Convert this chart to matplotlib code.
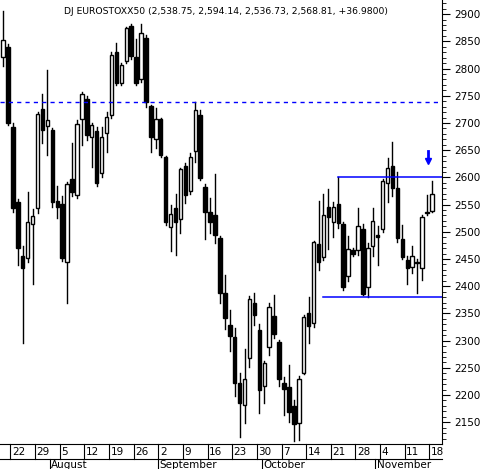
import numpy as np
import pandas as pd
import matplotlib
matplotlib.use('Agg')
import matplotlib.pyplot as plt
from matplotlib.patches import Rectangle

# OHLC, 2002-07-18 .. 2002-11-18
opens = [2822, 2840, 2692, 2554, 2455, 2452, 2514, 2543, 2725, 2694,
         2687, 2556, 2551, 2444, 2597, 2567, 2707, 2744, 2674, 2685,
         2608, 2681, 2714, 2830, 2773, 2814, 2878, 2821, 2780, 2856,
         2731, 2670, 2707, 2637, 2508, 2543, 2523, 2620, 2575, 2648,
         2714, 2582, 2536, 2531, 2488, 2387, 2328, 2306, 2222, 2181,
         2268, 2369, 2319, 2216, 2288, 2345, 2297, 2222, 2214, 2179,
         2148, 2240, 2350, 2332, 2477, 2453, 2545, 2518, 2551, 2514,
         2418, 2466, 2466, 2505, 2398, 2474, 2495, 2505, 2589, 2621,
         2580, 2486, 2448, 2435, 2445, 2433, 2534, 2539]
highs = [2905, 2845, 2700, 2560, 2474, 2573, 2541, 2720, 2753, 2797,
         2690, 2584, 2565, 2592, 2663, 2705, 2757, 2750, 2700, 2692,
         2692, 2720, 2830, 2847, 2810, 2877, 2882, 2855, 2882, 2862,
         2733, 2727, 2710, 2640, 2549, 2569, 2618, 2626, 2644, 2738,
         2724, 2588, 2562, 2607, 2492, 2420, 2356, 2323, 2241, 2285,
         2382, 2387, 2330, 2262, 2369, 2383, 2302, 2233, 2255, 2191,
         2235, 2347, 2380, 2483, 2557, 2569, 2578, 2555, 2600, 2518,
         2492, 2470, 2543, 2514, 2480, 2543, 2510, 2597, 2635, 2665,
         2610, 2512, 2455, 2473, 2450, 2531, 2567, 2594]
lows = [2805, 2696, 2537, 2439, 2295, 2445, 2404, 2535, 2663, 2641,
        2545, 2525, 2446, 2370, 2565, 2562, 2659, 2668, 2619, 2585,
        2600, 2646, 2710, 2770, 2770, 2810, 2818, 2769, 2775, 2729,
        2646, 2654, 2638, 2512, 2464, 2457, 2497, 2553, 2570, 2628,
        2595, 2487, 2497, 2480, 2370, 2321, 2281, 2198, 2122, 2148,
        2251, 2328, 2167, 2185, 2274, 2305, 2216, 2163, 2150, 2115,
        2117, 2238, 2295, 2325, 2430, 2448, 2469, 2490, 2507, 2393,
        2409, 2455, 2458, 2383, 2380, 2455, 2439, 2500, 2554, 2565,
        2481, 2450, 2404, 2424, 2387, 2411, 2530, 2537]
closes = [2852, 2700, 2543, 2470, 2433, 2518, 2529, 2716, 2687, 2705,
          2554, 2545, 2452, 2588, 2573, 2699, 2753, 2678, 2696, 2589,
          2674, 2711, 2825, 2773, 2806, 2874, 2823, 2773, 2865, 2738,
          2674, 2707, 2641, 2518, 2532, 2518, 2615, 2567, 2637, 2723,
          2599, 2536, 2518, 2494, 2387, 2341, 2308, 2222, 2185, 2229,
          2376, 2347, 2209, 2258, 2362, 2312, 2229, 2211, 2168, 2146,
          2229, 2343, 2326, 2481, 2444, 2531, 2527, 2545, 2516, 2398,
          2469, 2460, 2510, 2385, 2471, 2520, 2491, 2593, 2617, 2580,
          2488, 2453, 2433, 2455, 2442, 2527, 2537, 2569]
dates = pd.bdate_range('2002-07-18', periods=len(closes))

prev_level = 2738
resist_level, resist_from = 2600, 68
support_level, support_from = 2381, 65
title = "DJ EUROSTOXX50 (2,538.75, 2,594.14, 2,536.73, 2,568.81, +36.9800)"

fig = plt.figure(figsize=(4.83, 4.69), dpi=100)
ax = fig.add_axes([0, 25 / 469, 442 / 483, 444 / 469])
n = len(closes)
x = np.arange(n)
for i in x:
    o, h, l, c = opens[i], highs[i], lows[i], closes[i]
    ax.plot([i, i], [l, h], color='black', lw=1, zorder=1)
    up = c >= o
    ax.add_patch(Rectangle((i - 0.35, min(o, c)), 0.7, max(abs(c - o), 1.5),
                           facecolor='white' if up else 'black',
                           edgecolor='black', lw=1, zorder=2))

ax.axhline(prev_level, color='blue', ls=(0, (3, 3)), lw=1)
ax.plot([resist_from, 89.1], [resist_level, resist_level], color='blue', lw=1.1)
ax.plot([resist_from, resist_from], [resist_level, highs[resist_from]], color='blue', lw=1.1)
ax.plot([support_from, 89.1], [support_level, support_level], color='blue', lw=1.1)
# small down arrow above the last candle
ax.plot([86.2, 86.2], [2633, 2648], color='blue', lw=2)
ax.plot([86.2], [2630], marker='v', color='blue', markersize=5)

ax.set_xlim(-0.61, 89.05)
ax.set_ylim(2110, 2926)
ax.yaxis.tick_right()
ax.set_yticks(np.arange(2150, 2901, 50))
ax.set_yticks(np.arange(2120, 2926, 10), minor=True)
ax.tick_params(axis='y', which='major', length=6, labelsize=7.5, pad=3)
ax.tick_params(axis='y', which='minor', length=3)
ax.set_xticks([])
for s in ['top', 'left']:
    ax.spines[s].set_visible(False)
ax.text(0.145, 0.985, title, transform=ax.transAxes, fontsize=6.7, va='top')

# date rows below the plot
tr = ax.get_xaxis_transform()
for i, d in enumerate(dates):
    if d.weekday() == 0:
        ax.plot([i - 0.5, i - 0.5], [0, -0.033], transform=tr, color='black', lw=0.8, clip_on=False)
        ax.text(i - 0.2, -0.017, str(d.day), transform=tr, fontsize=7.5, va='center', clip_on=False)
    if i > 0 and d.month != dates[i - 1].month:
        ax.plot([i - 0.5, i - 0.5], [-0.033, -0.06], transform=tr, color='black', lw=0.8, clip_on=False)
        ax.text(i - 0.2, -0.047, d.strftime('%B'), transform=tr, fontsize=7.5, va='center', clip_on=False)
ax.plot([-0.61, 89.05], [-0.033, -0.033], transform=tr, color='black', lw=0.8, clip_on=False)

fig.savefig('out.png', dpi=100)
